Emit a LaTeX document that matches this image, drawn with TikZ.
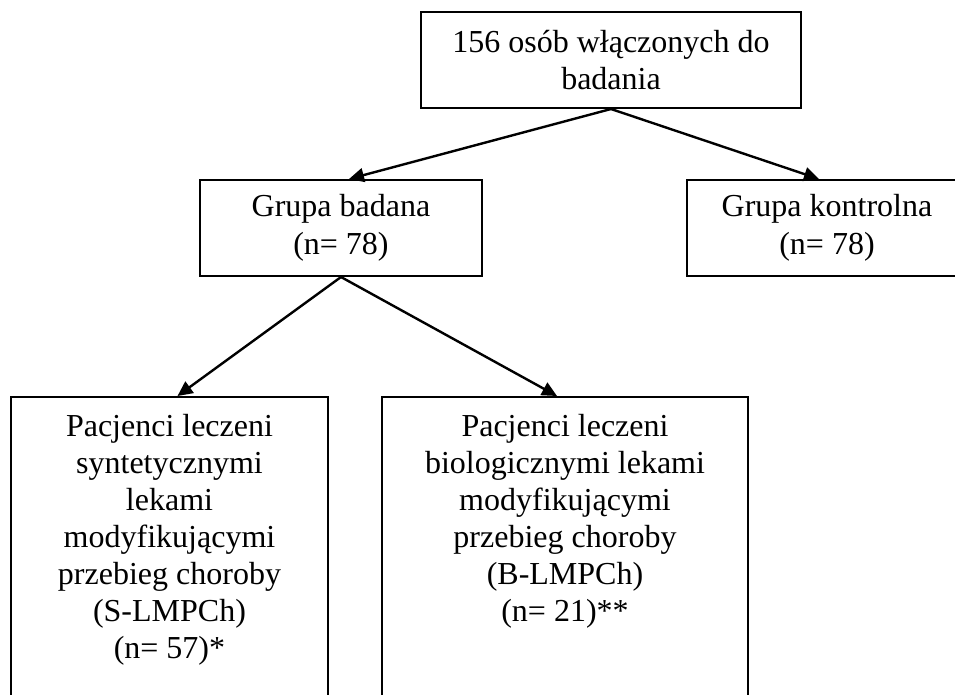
\documentclass[tikz,border=0pt]{standalone}
\usepackage{fontspec}
\setmainfont{Liberation Serif}
\usetikzlibrary{arrows.meta,calc}
\begin{document}
\begin{tikzpicture}[x=1pt,y=-1pt,
  box/.style={draw=black,line width=2pt,rectangle,inner sep=0pt,align=center,
    font=\fontsize{32}{37.5}\selectfont},
  txt/.style={inner sep=0pt,align=center,font=\fontsize{32}{37}\selectfont,anchor=north},
  arr/.style={line width=2.4pt,-{Triangle[length=15pt,width=14pt]}}]
\useasboundingbox (0,0) rectangle (955,695);
\clip (0,0) rectangle (955,695);
\node[box,minimum width=380pt,minimum height=96pt] (top) at (611,60) {156 osób włączonych do\\badania};
\node[box,minimum width=282pt,minimum height=96pt] (gb) at (341,228) {Grupa badana\\(n= 78)};
\node[box,minimum width=280pt,minimum height=96pt] (gk) at (827,228) {Grupa kontrolna\\(n= 78)};
\node[box,minimum width=317pt,minimum height=380pt,anchor=north] (sl) at (169.5,396) {};
\node[box,minimum width=366pt,minimum height=380pt,anchor=north] (bl) at (565,396) {};
\node[txt] (slt) at (169.5,414) {Pacjenci leczeni\\syntetycznymi\\lekami\\modyfikującymi\\przebieg choroby\\(S-LMPCh)\\(n= 57)*};
\node[txt] (blt) at (565,414) {Pacjenci leczeni\\biologicznymi lekami\\modyfikującymi\\przebieg choroby\\(B-LMPCh)\\(n= 21)**};
\draw[arr] (top.south) -- ($(gb.north)+(8,0)$);
\draw[arr] (top.south) -- ($(gk.north)+(-8,0)$);
\draw[arr] (gb.south) -- ($(sl.north)+(8,0)$);
\draw[arr] (gb.south) -- ($(bl.north)+(-8,0)$);
\end{tikzpicture}
\end{document}
